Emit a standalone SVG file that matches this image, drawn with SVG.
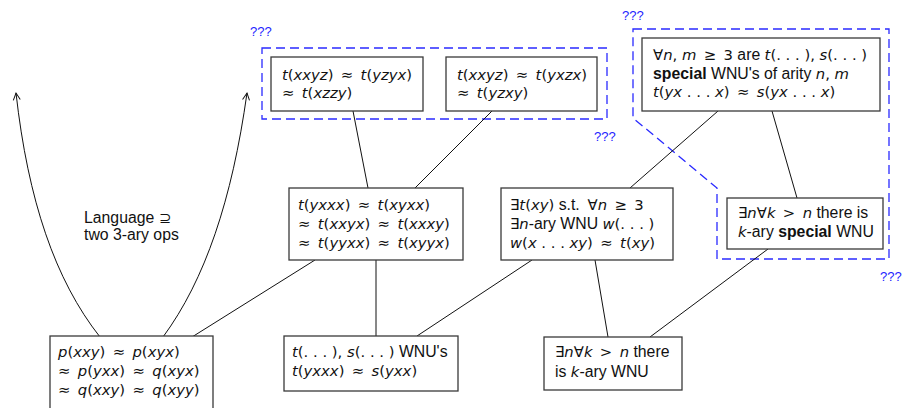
<svg xmlns="http://www.w3.org/2000/svg" width="906" height="408" viewBox="0 0 906 408">
  <defs>
    <style>
      text { font-family: "Liberation Sans", "DejaVu Sans", sans-serif; font-size: 15.8px; fill: #111; }
      .m { font-family: "DejaVu Sans", "Liberation Sans", sans-serif; font-size: 14.8px; }
      .i { font-style: italic; }
      .b { font-weight: bold; }
      .q { fill: #2424ff; font-size: 13px; }
      .box { fill: #fff; stroke: #3a3a3a; stroke-width: 1.3; }
      .edge { fill: none; stroke: #111; stroke-width: 1; }
      .region { fill: none; stroke: #2a2aff; stroke-width: 1.3; stroke-dasharray: 9 5; }
    </style>
    <marker id="open" viewBox="0 0 10 10" refX="8" refY="5" markerWidth="10" markerHeight="10" markerUnits="userSpaceOnUse" orient="auto">
      <path d="M1,1.5 L8,5 L1,8.5" fill="none" stroke="#111" stroke-width="1"/>
    </marker>
  </defs>

  <!-- dashed regions with their labels -->
  <g id="regions">
    <rect class="region" x="262" y="48" width="345" height="71"/>
    <text class="q" x="250" y="36">???</text>
    <text class="q" x="594" y="141">???</text>
    <path class="region" d="M633,29 L889,29 L889,259 L717,259 L717,188 L633,118 Z"/>
    <text class="q" x="622" y="20">???</text>
    <text class="q" x="880" y="281">???</text>
  </g>

  <!-- connectors -->
  <g id="connectors">
    <path class="edge" d="M100,337 C55,280 28,200 16,93" marker-end="url(#open)"/>
    <path class="edge" d="M163,337 C205,280 232,200 247,93" marker-end="url(#open)"/>
    <line class="edge" x1="192" y1="337" x2="315" y2="260"/>
    <line class="edge" x1="353" y1="111" x2="368" y2="188"/>
    <line class="edge" x1="492" y1="111" x2="415" y2="188"/>
    <line class="edge" x1="376" y1="260" x2="376" y2="336"/>
    <line class="edge" x1="532" y1="260" x2="417" y2="336"/>
    <line class="edge" x1="595" y1="260" x2="608" y2="337"/>
    <line class="edge" x1="718" y1="111" x2="630" y2="188"/>
    <line class="edge" x1="772" y1="111" x2="797" y2="198"/>
    <line class="edge" x1="768" y1="249" x2="650" y2="337"/>
  </g>

  <!-- edge label -->
  <g id="label-language">
    <text x="84" y="223">Language <tspan class="m">⊇</tspan></text>
    <text x="84" y="240">two 3-ary ops</text>
  </g>

  <g id="n-top-left">
    <rect class="box" x="271" y="57" width="152" height="54"/>
    <text x="282" y="80" class="m"><tspan class="i">t</tspan>(<tspan class="i">xxyz</tspan>)&#8194;≈&#8194;<tspan class="i">t</tspan>(<tspan class="i">yzyx</tspan>)</text>
    <text x="282" y="98" class="m">≈&#8194;<tspan class="i">t</tspan>(<tspan class="i">xzzy</tspan>)</text>
  </g>

  <g id="n-top-mid">
    <rect class="box" x="446" y="57" width="151" height="54"/>
    <text x="457" y="80" class="m"><tspan class="i">t</tspan>(<tspan class="i">xxyz</tspan>)&#8194;≈&#8194;<tspan class="i">t</tspan>(<tspan class="i">yxzx</tspan>)</text>
    <text x="457" y="98" class="m">≈&#8194;<tspan class="i">t</tspan>(<tspan class="i">yzxy</tspan>)</text>
  </g>

  <g id="n-top-right">
    <rect class="box" x="642" y="38" width="238" height="73"/>
    <text x="653" y="60"><tspan class="m">∀<tspan class="i">n</tspan>, <tspan class="i">m</tspan>&#8194;≥&#8194;3</tspan> are <tspan class="m"><tspan class="i">t</tspan>(. . . ), <tspan class="i">s</tspan>(. . . )</tspan></text>
    <text x="653" y="79"><tspan class="b">special</tspan> WNU's of arity <tspan class="m"><tspan class="i">n</tspan>, <tspan class="i">m</tspan></tspan></text>
    <text x="653" y="97" class="m"><tspan class="i">t</tspan>(<tspan class="i">yx</tspan> . . . <tspan class="i">x</tspan>)&#8194;≈&#8194;<tspan class="i">s</tspan>(<tspan class="i">yx</tspan> . . . <tspan class="i">x</tspan>)</text>
  </g>

  <g id="n-mid-left">
    <rect class="box" x="289" y="188" width="174" height="72"/>
    <text x="298" y="210" class="m"><tspan class="i">t</tspan>(<tspan class="i">yxxx</tspan>)&#8194;≈&#8194;<tspan class="i">t</tspan>(<tspan class="i">xyxx</tspan>)</text>
    <text x="298" y="229" class="m">≈&#8194;<tspan class="i">t</tspan>(<tspan class="i">xxyx</tspan>)&#8194;≈&#8194;<tspan class="i">t</tspan>(<tspan class="i">xxxy</tspan>)</text>
    <text x="298" y="248" class="m">≈&#8194;<tspan class="i">t</tspan>(<tspan class="i">yyxx</tspan>)&#8194;≈&#8194;<tspan class="i">t</tspan>(<tspan class="i">xyyx</tspan>)</text>
  </g>

  <g id="n-mid-right">
    <rect class="box" x="501" y="188" width="172" height="72"/>
    <text x="510" y="210"><tspan class="m">∃<tspan class="i">t</tspan>(<tspan class="i">xy</tspan>)</tspan> s.t.&#8194;<tspan class="m">∀<tspan class="i">n</tspan>&#8194;≥&#8194;3</tspan></text>
    <text x="510" y="229"><tspan class="m">∃<tspan class="i">n</tspan></tspan>-ary WNU <tspan class="m"><tspan class="i">w</tspan>(. . . )</tspan></text>
    <text x="510" y="248" class="m"><tspan class="i">w</tspan>(<tspan class="i">x</tspan> . . . <tspan class="i">xy</tspan>)&#8194;≈&#8194;<tspan class="i">t</tspan>(<tspan class="i">xy</tspan>)</text>
  </g>

  <g id="n-special">
    <rect class="box" x="727" y="198" width="156" height="51"/>
    <text x="738" y="218"><tspan class="m">∃<tspan class="i">n</tspan>∀<tspan class="i">k</tspan>&#8194;&gt;&#8194;<tspan class="i">n</tspan></tspan> there is</text>
    <text x="738" y="237"><tspan class="m i">k</tspan>-ary <tspan class="b">special</tspan> WNU</text>
  </g>

  <g id="n-bottom-left">
    <rect class="box" x="50" y="336" width="163" height="80"/>
    <text x="58" y="357" class="m"><tspan class="i">p</tspan>(<tspan class="i">xxy</tspan>)&#8194;≈&#8194;<tspan class="i">p</tspan>(<tspan class="i">xyx</tspan>)</text>
    <text x="58" y="376" class="m">≈&#8194;<tspan class="i">p</tspan>(<tspan class="i">yxx</tspan>)&#8194;≈&#8194;<tspan class="i">q</tspan>(<tspan class="i">xyx</tspan>)</text>
    <text x="58" y="395" class="m">≈&#8194;<tspan class="i">q</tspan>(<tspan class="i">xxy</tspan>)&#8194;≈&#8194;<tspan class="i">q</tspan>(<tspan class="i">xyy</tspan>)</text>
  </g>

  <g id="n-bottom-mid">
    <rect class="box" x="284" y="336" width="174" height="55"/>
    <text x="292" y="357"><tspan class="m"><tspan class="i">t</tspan>(. . . ), <tspan class="i">s</tspan>(. . . )</tspan> WNU's</text>
    <text x="292" y="376" class="m"><tspan class="i">t</tspan>(<tspan class="i">yxxx</tspan>)&#8194;≈&#8194;<tspan class="i">s</tspan>(<tspan class="i">yxx</tspan>)</text>
  </g>

  <g id="n-bottom-right">
    <rect class="box" x="544" y="337" width="138" height="53"/>
    <text x="555" y="357"><tspan class="m">∃<tspan class="i">n</tspan>∀<tspan class="i">k</tspan>&#8194;&gt;&#8194;<tspan class="i">n</tspan></tspan> there</text>
    <text x="555" y="377">is <tspan class="m i">k</tspan>-ary WNU</text>
  </g>
</svg>
